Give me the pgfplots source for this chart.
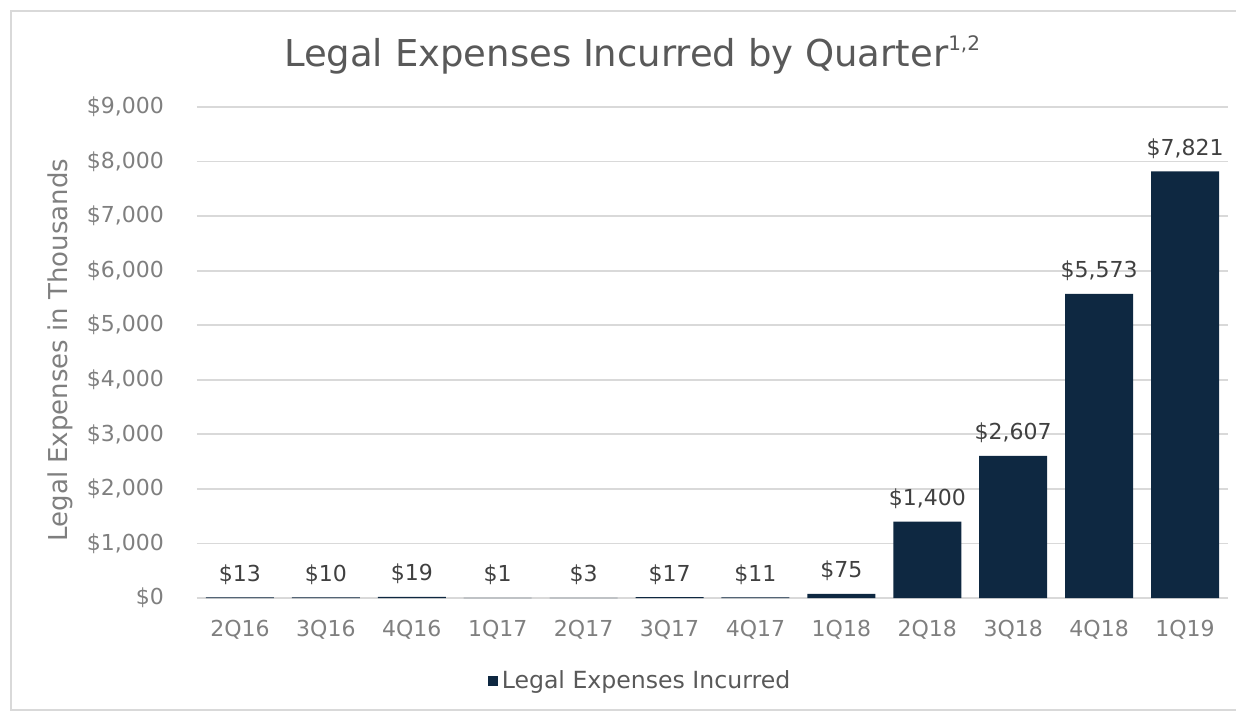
\documentclass[border=0pt]{standalone}
\usepackage{pgfplots}
\pgfplotsset{compat=1.18}
\usepackage{fontspec}
\setmainfont{DejaVu Sans}
\definecolor{navy}{HTML}{0E2841}
\definecolor{gridgray}{HTML}{D9D9D9}
\definecolor{txtgray}{HTML}{7F7F7F}
\definecolor{titlegray}{HTML}{595959}
\definecolor{lblgray}{HTML}{404040}

\begin{document}
\begin{tikzpicture}
\draw[gridgray, line width=0.8pt] (530pt,293.5pt) -- (-93pt,293.5pt) -- (-93pt,-56pt) -- (530pt,-56pt);
\begin{axis}[
    scale only axis,
    width=515.5pt, height=245.5pt,
    ybar, bar width=34pt,
    xmin=-0.5, xmax=11.5,
    ymin=0, ymax=9000,
    ytick={0,1000,...,9000},
    xtick={0,...,11},
    xticklabels={2Q16,3Q16,4Q16,1Q17,2Q17,3Q17,4Q17,1Q18,2Q18,3Q18,4Q18,1Q19},
    axis line style={draw=none},
    major tick length=0pt,
    ymajorgrids,
    grid style={gridgray, line width=0.9pt},
    tick label style={font=\fontsize{11}{13}\selectfont, text=txtgray},
    yticklabel={\$\pgfmathprintnumber[fixed,precision=0,1000 sep={,},assume math mode=true]{\tick}},
    yticklabel style={xshift=-13pt},
    xticklabel style={anchor=base, yshift=-19pt},
    ylabel={Legal Expenses in Thousands},
    ylabel style={at={(rel axis cs:-0.133,0.505)}, anchor=center,
        font=\fontsize{13}{15}\selectfont, text=txtgray},
    title={Legal Expenses Incurred by Quarter\raisebox{0.42em}{\fontsize{10}{10}\selectfont 1,2}},
    title style={at={(rel axis cs:0.422,1)}, anchor=base, yshift=14.5pt,
        font=\fontsize{18.5}{22}\selectfont, text=titlegray},
    nodes near coords={\$\pgfmathprintnumber[fixed,precision=0,1000 sep={,},assume math mode=true]{\pgfplotspointmeta}},
    nodes near coords style={anchor=base, yshift=8pt,
        font=\fontsize{11}{13}\selectfont, text=lblgray},
    legend style={at={(0.4307,-0.169)}, anchor=center, draw=none, fill=none,
        font=\fontsize{11.8}{14}\selectfont, text=titlegray},
    legend image code/.code={\fill[navy] (0pt,-2.5pt) rectangle (5pt,2.5pt);},
]
\addplot[fill=navy, draw=none] coordinates {
    (0,13) (1,10) (2,19) (3,1) (4,3) (5,17)
    (6,11) (7,75) (8,1400) (9,2607) (10,5573) (11,7821)
};
\addlegendentry{Legal Expenses Incurred}
\end{axis}
\pgfresetboundingbox
\path[use as bounding box] (-98.5pt,-57pt) rectangle (519.5pt,299pt);
\end{tikzpicture}
\end{document}
